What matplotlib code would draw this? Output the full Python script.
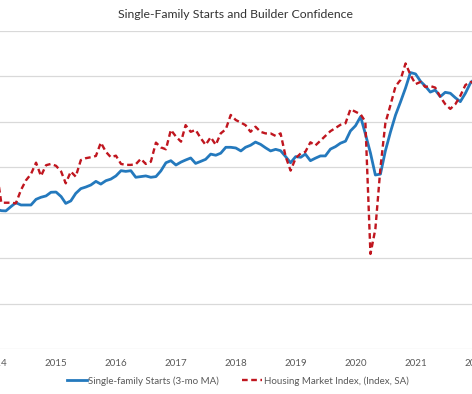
import pandas as pd
import numpy as np
import matplotlib
matplotlib.use('Agg')
import matplotlib.pyplot as plt
import matplotlib.dates as mdates

plt.rcParams['font.family'] = ['Lato', 'DejaVu Sans']

# monthly, Jan 2014 - Jan 2022
months = pd.date_range('2014-01-01', periods=97, freq='MS')

# single-family starts, 3-mo moving average (thousands, SAAR)
starts = [615, 609, 608, 627, 644, 634, 634, 634, 659, 668, 674, 690,
          691, 671, 641, 652, 685, 706, 713, 722, 738, 726, 741, 748,
          762, 785, 782, 785, 756, 759, 762, 756, 759, 784, 820, 829,
          810, 823, 832, 841, 817, 826, 835, 858, 853, 862, 888, 888,
          885, 872, 888, 897, 911, 901, 886, 872, 879, 873, 847, 820,
          847, 844, 858, 829, 840, 850, 850, 880, 891, 906, 915, 960,
          983, 1023, 947, 863, 766, 770, 872, 955, 1030, 1087, 1149, 1217,
          1211, 1178, 1158, 1131, 1140, 1111, 1130, 1126, 1106, 1089, 1126, 1170,
          1193]

# NAHB/Wells Fargo housing market index
hmi = [57, 46, 46, 46, 45.8, 50, 53, 55, 58.6, 54.4, 57.8, 58.2,
       57.6, 55.8, 52.1, 55.8, 54.2, 59.4, 60, 60.3, 60.7, 64.9, 62, 60.3,
       60.8, 58.2, 57.9, 57.9, 58.1, 59.8, 58.2, 58.9, 64.9, 63.4, 62.8, 68.9,
       66.8, 65.2, 70.4, 68.3, 68.9, 66.3, 64.2, 66.6, 64.2, 67.8, 69.1, 73.6,
       72, 71.2, 70.4, 68.3, 69.9, 68.3, 67.8, 67.8, 67, 67.8, 60.5, 56.1,
       60, 61.5, 62, 65, 64, 65.5, 67, 68.5, 69.5, 70.5, 71, 75.4,
       74.6, 73.8, 71.5, 29.9, 37.7, 57, 71, 76.7, 82.6, 84.6, 89.8, 86.2,
       83.3, 84, 82.4, 82.7, 82.2, 79.3, 77, 75.5, 77, 79.6, 83, 84,
       83.5]

years = pd.date_range('2014-01-01', '2022-01-01', freq='YS')

W, H = 472, 394
fig = plt.figure(figsize=(W / 100, H / 100), dpi=100)

# the plot area runs past both image edges (cropped chart)
left_px, right_px = -60, 532
ax1 = fig.add_axes([left_px / W, (H - 349) / H, (right_px - left_px) / W, 318 / H])
ax2 = ax1.twinx()

blue = '#2479BD'
red = '#C0161F'
l1, = ax1.plot(months, starts, color=blue, lw=2.0, label='Single-family Starts (3-mo MA)')
l2, = ax2.plot(months, hmi, color=red, lw=1.7, ls=(0, (2.4, 1.5)),
               label='Housing Market Index, (Index, SA)')

ax1.set_ylim(0, 1400)
ax1.set_yticks(np.arange(0, 1401, 200))
ax2.set_ylim(0, 100)
ax1.grid(axis='y', color='#D9D9D9', lw=0.9)
ax1.set_axisbelow(True)
for a in (ax1, ax2):
    for s in a.spines.values():
        s.set_visible(False)
    a.tick_params(axis='y', left=False, right=False, labelleft=False, labelright=False)

# x scale: ~59.9 px per year, Jan 2014 at x=-3.8 px
d0 = mdates.date2num(pd.Timestamp('2014-01-01'))
ppd = 59.9 / 365.25
ax1.set_xlim(d0 + (left_px + 3.8) / ppd, d0 + (right_px + 3.8) / ppd)
ax1.set_xticks(years)
ax1.xaxis.set_major_formatter(mdates.DateFormatter('%Y'))
ax1.tick_params(axis='x', length=0, pad=7, labelsize=7, labelcolor='#595959')

fig.text(236 / W, 1 - 14 / H, 'Single-Family Starts and Builder Confidence',
         ha='center', va='center', fontsize=8.8, color='#333333')

fig.legend(handles=[l1, l2], loc='center', bbox_to_anchor=(237.5 / W, 1 - 381 / H),
           ncol=2, frameon=False, fontsize=7, handlelength=2.1, handletextpad=0.15,
           columnspacing=2.3, labelcolor='#595959')

fig.savefig('out.png', dpi=100)
